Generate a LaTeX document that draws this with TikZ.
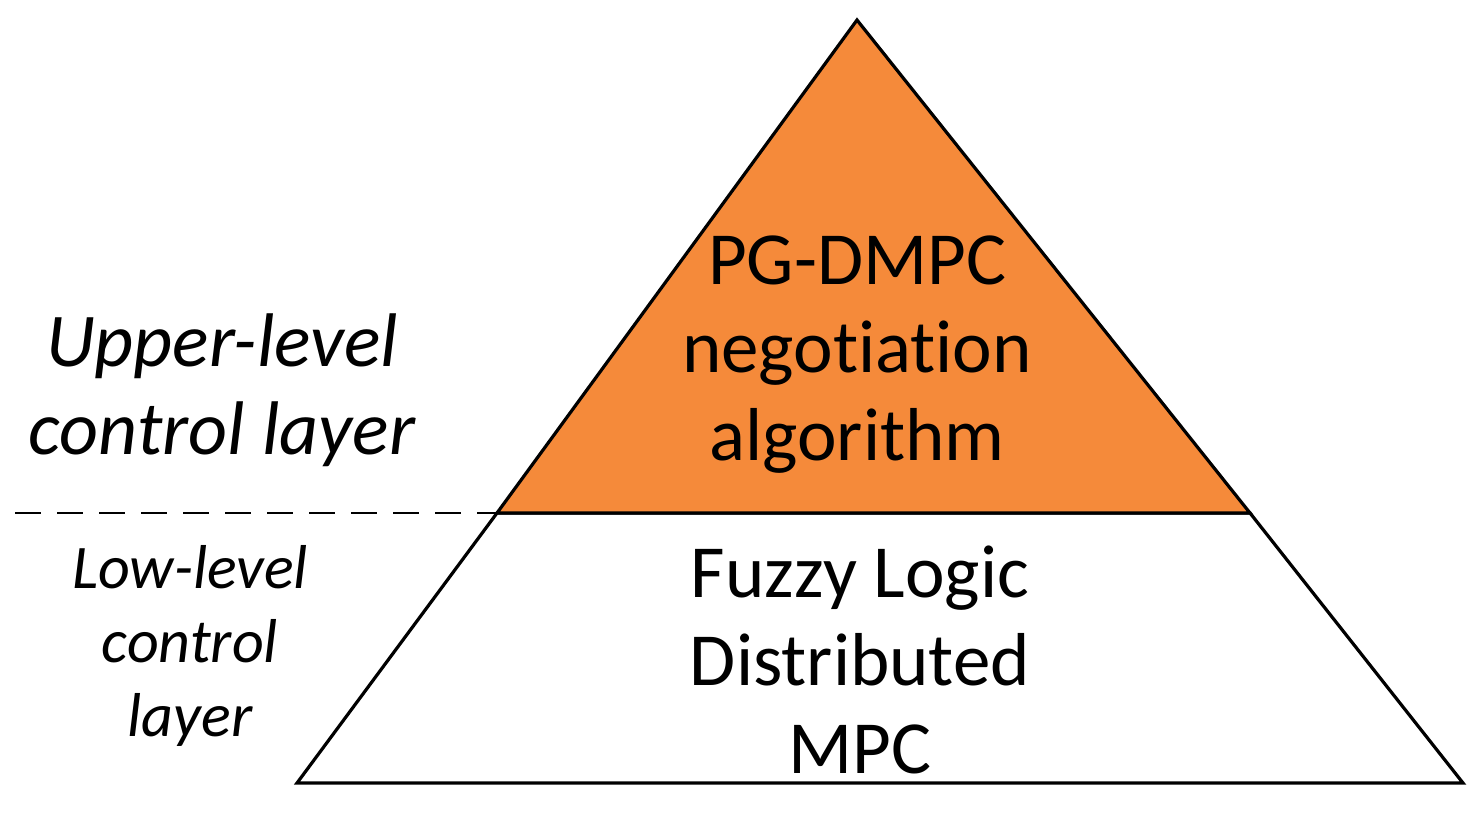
\documentclass[tikz,border=0pt]{standalone}
\usepackage{fontspec}
\setmainfont[Ligatures={NoCommon}]{Carlito}
\begin{document}
\begin{tikzpicture}[x=0.5pt,y=-0.5pt,
  edge/.style={black,line width=1.6pt,line join=miter},
  big/.style={align=center,font=\fontsize{37.5}{44}\selectfont},
  side/.style={align=center,font=\fontsize{38}{44}\selectfont\itshape},
  small/.style={align=center,font=\fontsize{31}{37}\selectfont\itshape}]
\useasboundingbox (0,0) rectangle (1482,816);
\coordinate (apex) at (857,20);
\coordinate (bl) at (297,783);
\coordinate (br) at (1463,783);
\coordinate (ml) at (497,513);
\coordinate (mr) at (1250,513);
\coordinate (dl) at (15,513);
\draw[edge,fill=white] (bl) -- (br) -- (mr) -- (ml) -- cycle;
\draw[edge,fill={rgb,255:red,245;green,138;blue,58}] (apex) -- (mr) -- (ml) -- cycle;
\draw[black,line width=0.8pt,dash pattern=on 13pt off 8pt] (dl) -- (ml);
\node[big] (top) at (857,355) {PG-DMPC\\negotiation\\algorithm};
\node[big] (bot) at (860,660) {Fuzzy Logic\\Distributed\\MPC};
\node[side] (up) at (222,390) {Upper-level\\control layer};
\node[small] (low) at (190,646) {Low-level\\control\\layer};
\end{tikzpicture}
\end{document}
